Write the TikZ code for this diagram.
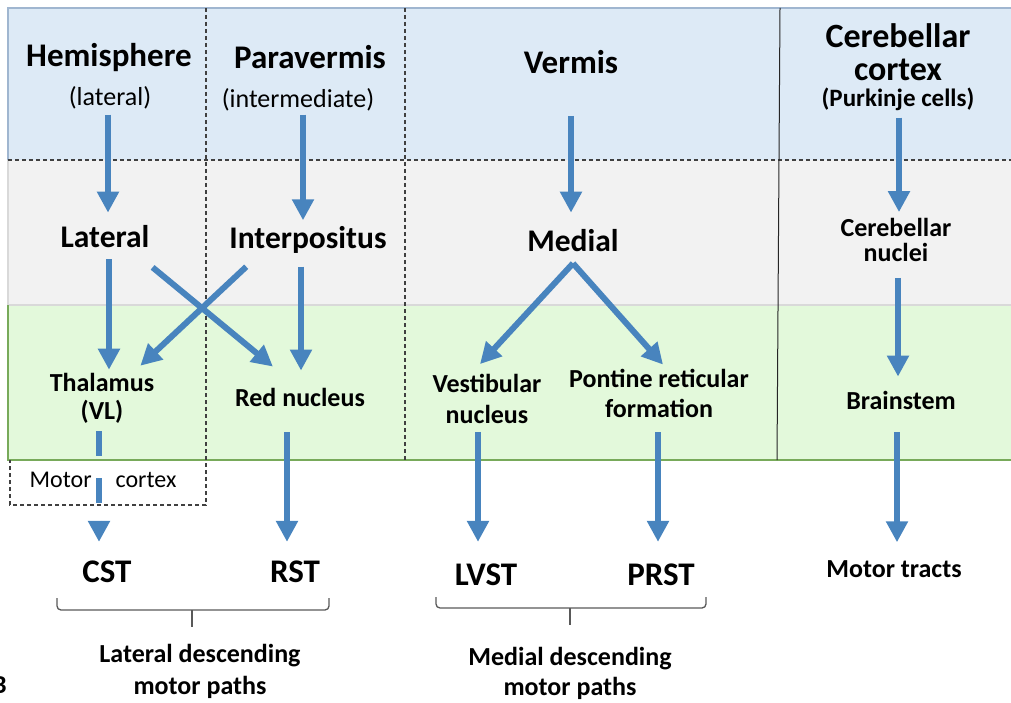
\documentclass[tikz,border=0pt]{standalone}
\usepackage{fontspec}
\setmainfont{Carlito}
\usetikzlibrary{arrows.meta}
\definecolor{bandblue}{RGB}{221,234,246}
\definecolor{bandgray}{RGB}{242,242,242}
\definecolor{bandgreen}{RGB}{227,249,219}
\definecolor{greenedge}{RGB}{120,170,90}
\definecolor{blueedge}{RGB}{160,182,208}
\definecolor{arrowblue}{RGB}{72,132,190}
\begin{document}
\begin{tikzpicture}[x=1pt,y=-1pt,
  big/.style={font=\fontsize{33}{36}\selectfont\bfseries,inner sep=0pt},
  mid/.style={font=\fontsize{31.5}{34}\selectfont\bfseries,inner sep=0pt},
  small/.style={font=\fontsize{26}{28}\selectfont\bfseries,inner sep=0pt,align=center},
  sub/.style={font=\fontsize{26}{28}\selectfont,inner sep=0pt},
  arr/.style={line width=6pt,arrowblue,-{Triangle[length=21pt,width=21pt]}},
  stub/.style={line width=6pt,arrowblue},
  sep/.style={dash pattern=on 4pt off 3pt,line width=1.2pt,black!75},
  brace/.style={line width=1.3pt,black!65,rounded corners=4pt}]
\useasboundingbox (0,0) rectangle (1011,703);
% bands
\fill[bandblue] (8,8) rectangle (1011,160);
\fill[bandgray] (8,160) rectangle (1011,305);
\fill[bandgreen] (8,305) rectangle (1011,460);
\draw[blueedge,line width=1.2pt] (1011,8) -- (8,8) -- (8,160);
\draw[black!15,line width=1.2pt] (8,160) -- (8,305) -- (1011,305);
\draw[greenedge,line width=1.5pt] (8,305) -- (8,460) -- (1011,460);
\draw[sep] (8,160) -- (1011,160);
\draw[sep] (206,8) -- (206,505) -- (10,505) -- (10,460);
\draw[sep] (405,8) -- (405,460);
\draw[black!85,line width=1pt] (780,8) -- (777,460);
% top row
\node[big] (hemi) at (109,58) {Hemisphere};
\node[sub] (hemisub) at (110,98) {(lateral)};
\node[big] (para) at (310,57) {Paravermis};
\node[sub] (parasub) at (298,100) {(intermediate)};
\node[big] (verm) at (571,62) {Vermis};
\node[small,font=\fontsize{34}{33}\selectfont\bfseries] (cctx) at (898,67)
  {Cerebellar\\cortex\\[-7pt]{\fontsize{25}{28}\selectfont(Purkinje cells)}};
% nuclei
\node[mid] (lat) at (105,237) {Lateral};
\node[mid] (inter) at (308,240) {Interpositus};
\node[mid] (med) at (573,241) {Medial};
\node[small,font=\fontsize{26}{25}\selectfont\bfseries] (cnuc) at (896,240) {Cerebellar\\nuclei};
% targets
\node[small] (thal) at (102,398) {Thalamus\\(VL)};
\node[small] (red) at (300,397) {Red nucleus};
\node[small,font=\fontsize{26}{31}\selectfont\bfseries] (vest) at (487,399) {Vestibular\\nucleus};
\node[small,font=\fontsize{26}{30}\selectfont\bfseries] (pont) at (659,393) {Pontine reticular\\formation};
\node[small] (brain) at (901,400) {Brainstem};
\node[font=\fontsize{24}{26}\selectfont,inner sep=0pt] (mcx) at (103,480) {Motor\quad cortex};
% tracts
\node[big] (cst) at (107,572) {CST};
\node[big] (rst) at (295,572) {RST};
\node[big] (lvst) at (486,575) {LVST};
\node[big] (prst) at (661,575) {PRST};
\node[small] (mtr) at (894,569) {Motor tracts};
\node[small,font=\fontsize{26}{32}\selectfont\bfseries] (latdesc) at (200,671) {Lateral descending\\motor paths};
\node[small,font=\fontsize{26}{30}\selectfont\bfseries] (meddesc) at (570,673) {Medial descending\\motor paths};
\node[small,anchor=east] (tag) at (7,685) {B};
% arrows
\draw[arr,shorten <=5pt,shorten >=13pt] ([xshift=-2pt]hemisub.south) -- ([xshift=-2pt]hemisub.south |- lat.north);
\draw[arr,shorten <=3pt,shorten >=6pt] ([xshift=5pt]parasub.south) -- ([xshift=5pt]parasub.south |- inter.north);
\draw[arr,shorten <=42pt,shorten >=17pt] (verm.south) -- (verm.south |- med.north);
\draw[arr,shorten <=7pt,shorten >=6pt] ([xshift=1pt]cctx.south) -- ([xshift=1pt]cctx.south |- cnuc.north);
\draw[arr,shorten <=11pt,shorten >=3pt] ([xshift=4pt]lat.south) -- ([xshift=4pt]lat.south |- thal.north);
\draw[arr] ([xshift=3pt,yshift=-19pt]lat.south east) -- ([xshift=38pt,yshift=21pt]red.north west);
\draw[arr] ([xshift=17pt,yshift=-13pt]inter.south west) -- ([xshift=-14pt,yshift=7pt]thal.north east);
\draw[arr,shorten <=13pt,shorten >=17pt] ([xshift=-7pt]inter.south) -- ([xshift=-7pt]inter.south |- red.north);
\draw[arr] ([yshift=-11pt]med.south) -- ([xshift=-7pt,yshift=10pt]vest.north);
\draw[arr] ([yshift=-11pt]med.south) -- ([xshift=4pt,yshift=4pt]pont.north);
\draw[arr,shorten <=16pt,shorten >=14pt] ([xshift=2pt]cnuc.south) -- ([xshift=2pt]cnuc.south |- brain.north);
% descending
\draw[stub,shorten <=8pt] ([xshift=-3pt]thal.south) -- ++(0,33);
\draw[stub] ([xshift=-4pt,yshift=2pt]mcx.center) -- ++(0,25);
\draw[arr] ([xshift=-8pt,yshift=40pt]cst.north) -- ([xshift=-8pt,yshift=19pt]cst.north);
\draw[arr,shorten <=26pt,shorten >=19pt] ([xshift=-13pt]red.south) -- ([xshift=-13pt]red.south |- rst.north);
\draw[arr,shorten <=8pt,shorten >=22pt] ([xshift=-9pt]vest.south) -- ([xshift=-9pt]vest.south |- lvst.north);
\draw[arr,shorten <=15pt,shorten >=22pt] ([xshift=-1pt]pont.south) -- ([xshift=-1pt]pont.south |- prst.north);
\draw[arr,shorten <=23pt,shorten >=18pt] ([xshift=-4pt]brain.south) -- ([xshift=-4pt]brain.south |- mtr.north);
% braces
\draw[brace] (57,598) -- (57,610) -- (329,610) -- (329,598);
\draw[brace] (192,610) -- (192,627);
\draw[brace] (436,597) -- (436,608) -- (706,608) -- (706,597);
\draw[brace] (570,608) -- (570,625);
\end{tikzpicture}
\end{document}
